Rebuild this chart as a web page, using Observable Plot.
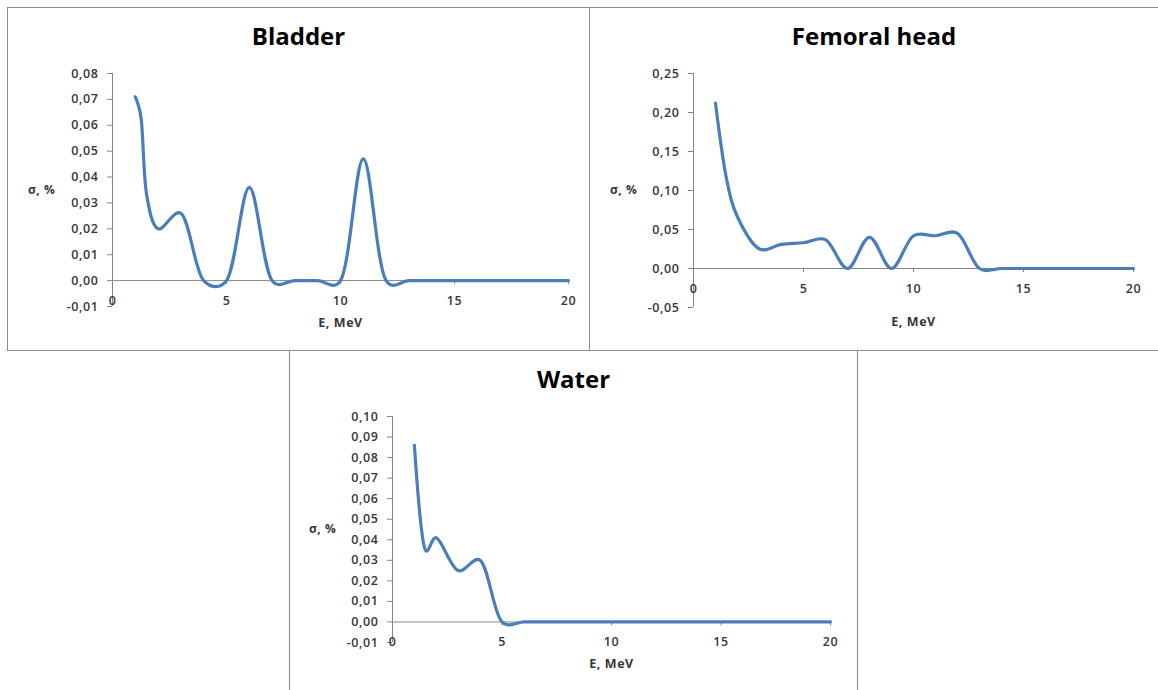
<!DOCTYPE html>
<html>
<head>
<meta charset="utf-8">
<script src="https://cdn.jsdelivr.net/npm/d3@7"></script>
<script src="https://cdn.jsdelivr.net/npm/@observablehq/plot@0.6"></script>
<style>
  body { margin: 0; background: #fff; }
  #page { position: relative; width: 1158px; height: 690px; overflow: hidden; font-family: "Open Sans", sans-serif; }
  .panel { position: absolute; box-sizing: border-box; border: 1px solid #8c8c8c; background: #fff; }
  .title { position: absolute; left: 0; right: 0; text-align: center; font-weight: 700; font-size: 24px; line-height: 24px; color: #000; }
  .panel svg { position: absolute; left: 0; }
  .panel svg text { letter-spacing: 0.6px; }
</style>
</head>
<body>
<div id="page"></div>
<script>
// Standard deviation σ (%) versus photon energy E (MeV), one series per tissue
const bladderE     = [1, 1.25, 1.5, 2, 3, 4, 5, 6, 7, 8, 9, 10, 11, 12, 13, 14, 15, 16, 17, 18, 19, 20];
const bladderSigma = [0.071, 0.063, 0.033, 0.020, 0.026, 0, 0, 0.036, 0, 0, 0, 0, 0.047, 0, 0, 0, 0, 0, 0, 0, 0, 0];

const femoralE     = [1, 1.5, 2, 3, 4, 5, 6, 7, 8, 9, 10, 11, 12, 13, 14, 15, 16, 17, 18, 19, 20];
const femoralSigma = [0.212, 0.115, 0.066, 0.025, 0.031, 0.033, 0.037, 0, 0.040, 0, 0.042, 0.042, 0.045, 0, 0, 0, 0, 0, 0, 0, 0];

const waterE       = [1, 1.5, 2, 3, 4, 5, 6, 7, 8, 9, 10, 11, 12, 13, 14, 15, 16, 17, 18, 19, 20];
const waterSigma   = [0.086, 0.035, 0.041, 0.025, 0.030, 0, 0, 0, 0, 0, 0, 0, 0, 0, 0, 0, 0, 0, 0, 0, 0];

// Axis ticks
const energyTicks   = [0, 5, 10, 15, 20];
const bladderTicks  = [-0.01, 0, 0.01, 0.02, 0.03, 0.04, 0.05, 0.06, 0.07, 0.08];
const femoralTicks  = [-0.05, 0, 0.05, 0.10, 0.15, 0.20, 0.25];
const waterTicks    = [-0.01, 0, 0.01, 0.02, 0.03, 0.04, 0.05, 0.06, 0.07, 0.08, 0.09, 0.10];

const titles = ["Bladder", "Femoral head", "Water"];
const xLabel = "E, MeV";
const yLabel = "σ, %";

const lineColor = "#4a7ebb";
const axisColor = "#868686";
const textColor = "#363636";

const toRows = (es, sigmas) => es.map((E, i) => ({E, sigma: sigmas[i]}));
const fmt = d => d.toFixed(2).replace(".", ",");

// Panel layout on the page
const panels = [
  {title: titles[0], rows: toRows(bladderE, bladderSigma), ticks: bladderTicks, domain: [-0.01, 0.08],
   left: 7, top: 7, width: 583, height: 344, svgTop: 49, svgHeight: 293,
   margin: {left: 104, right: 21, top: 16, bottom: 44}, yLabelDx: -57, xLabelDy: 16},
  {title: titles[1], rows: toRows(femoralE, femoralSigma), ticks: femoralTicks, domain: [-0.05, 0.25],
   left: 589, top: 7, width: 570, height: 344, svgTop: 49, svgHeight: 293,
   margin: {left: 103, right: 25, top: 16, bottom: 43}, yLabelDx: -56, xLabelDy: 14},
  {title: titles[2], rows: toRows(waterE, waterSigma), ticks: waterTicks, domain: [-0.01, 0.10],
   left: 289, top: 350, width: 569, height: 345, svgTop: 49, svgHeight: 290,
   margin: {left: 102, right: 27, top: 16, bottom: 48}, yLabelDx: -56, xLabelDy: 21}
];

const page = document.getElementById("page");

for (const p of panels) {
  const div = document.createElement("div");
  div.className = "panel";
  Object.assign(div.style, {left: p.left + "px", top: p.top + "px", width: p.width + "px", height: p.height + "px"});

  const title = document.createElement("div");
  title.className = "title";
  title.style.top = "16px";
  title.textContent = p.title;
  div.appendChild(title);

  const innerW = p.width - 2;
  const innerH = p.svgHeight - p.margin.top - p.margin.bottom;
  const tickLen = 4 * (p.domain[1] - p.domain[0]) / innerH;

  const chart = Plot.plot({
    width: innerW,
    height: p.svgHeight,
    marginLeft: p.margin.left,
    marginRight: p.margin.right,
    marginTop: p.margin.top,
    marginBottom: p.margin.bottom,
    style: {fontFamily: "'Open Sans', sans-serif", fontSize: "12px", background: "transparent", overflow: "visible"},
    x: {domain: [0, 20], axis: null},
    y: {domain: p.domain, axis: null},
    marks: [
      Plot.axisY({ticks: p.ticks, tickFormat: fmt, tickSize: 5, tickPadding: 9,
                  stroke: axisColor, fill: textColor, fontSize: 12.5, fontWeight: 600, label: null}),
      Plot.ruleX([0], {stroke: axisColor, strokeWidth: 1}),
      Plot.ruleY([0], {stroke: axisColor, strokeWidth: 1}),
      Plot.ruleX(energyTicks, {x: d => d, y1: 0, y2: -tickLen, stroke: axisColor}),
      Plot.text(energyTicks, {x: d => d, y: 0, dy: 20, text: d => String(d), fill: textColor, fontSize: 12.5, fontWeight: 600}),
      Plot.line(p.rows, {x: "E", y: "sigma", stroke: lineColor, strokeWidth: 3.2, curve: "catmull-rom", tension: 0.25}),
      Plot.text([yLabel], {frameAnchor: "left", dx: p.yLabelDx, textAnchor: "end", lineAnchor: "middle",
                           fontWeight: "bold", fontSize: 12, fill: textColor}),
      Plot.text([xLabel], {frameAnchor: "bottom", dy: p.xLabelDy, lineAnchor: "middle",
                           fontWeight: "bold", fontSize: 12.5, fill: textColor})
    ]
  });
  chart.style.top = p.svgTop + "px";
  div.appendChild(chart);
  page.appendChild(div);
}
</script>
</body>
</html>
